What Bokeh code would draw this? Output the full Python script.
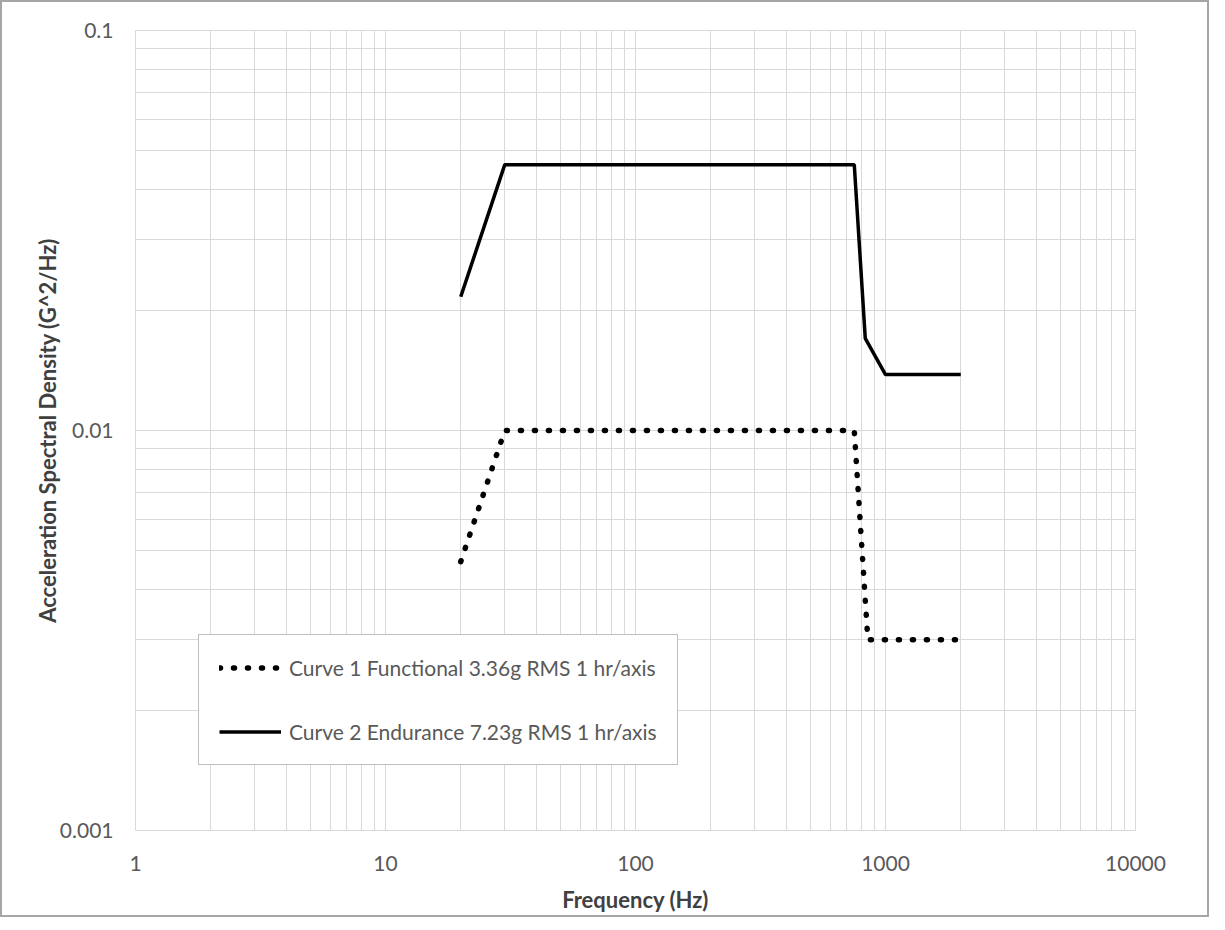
from bokeh.plotting import figure
from bokeh.models import Range1d, FixedTicker, CustomJSTickFormatter, Legend, LegendItem
from bokeh.embed import file_html
from bokeh.resources import INLINE

# ---- data ----
curve1_freq = [20, 30, 750, 850, 2000]
curve1_psd = [0.0047, 0.0100, 0.0100, 0.0030, 0.0030]
curve2_freq = [20, 30, 750, 830, 1000, 2000]
curve2_psd = [0.0216, 0.0462, 0.0462, 0.0170, 0.0138, 0.0138]
curve1_label = "Curve 1 Functional 3.36g RMS 1 hr/axis"
curve2_label = "Curve 2 Endurance 7.23g RMS 1 hr/axis"
x_decades = [1, 10, 100, 1000, 10000]
y_decades = [0.001, 0.01, 0.1]
mantissas = [2, 3, 4, 5, 6, 7, 8, 9]
x_title = "Frequency (Hz)"
y_title = "Acceleration Spectral Density (G^2/Hz)"

FONT = "Lato"
GRID = "#d9d9d9"

x_minor = [d * m for d in x_decades[:-1] for m in mantissas]
y_minor = [d * m for d in y_decades[:-1] for m in mantissas]

p = figure(width=1205, height=910, output_backend="svg", toolbar_location=None,
           x_axis_type="log", y_axis_type="log",
           x_range=Range1d(1, 10000), y_range=Range1d(0.001, 0.1),
           min_border_left=133, min_border_right=72, min_border_top=28, min_border_bottom=82)
p.frame_width = 1000
p.frame_height = 800
p.styles = {"border": "2px solid #a6a6a6"}

p.xaxis.ticker = FixedTicker(ticks=x_decades, minor_ticks=x_minor)
p.yaxis.ticker = FixedTicker(ticks=y_decades, minor_ticks=y_minor)
p.xaxis.formatter = CustomJSTickFormatter(code="return String(tick);")
p.yaxis.formatter = CustomJSTickFormatter(code="return String(tick);")

for ax in (p.xaxis[0], p.yaxis[0]):
    ax.axis_line_color = None
    ax.major_tick_line_color = None
    ax.minor_tick_line_color = None
    ax.major_label_text_font = FONT
    ax.major_label_text_font_size = "21px"
    ax.major_label_text_color = "#595959"
    ax.axis_label_text_font = FONT
    ax.axis_label_text_font_size = "22px"
    ax.axis_label_text_font_style = "bold"
    ax.axis_label_text_color = "#404040"

p.xaxis.axis_label = x_title
p.yaxis.axis_label = y_title
p.xaxis.major_label_standoff = 19
p.yaxis.major_label_standoff = 16
p.xaxis.axis_label_standoff = 12
p.yaxis.axis_label_standoff = -4

for g in (p.xgrid[0], p.ygrid[0]):
    g.grid_line_color = GRID
    g.minor_grid_line_color = GRID
    g.grid_line_width = 1
    g.minor_grid_line_width = 1
p.outline_line_color = GRID

r1 = p.line(curve1_freq, curve1_psd, line_color="black", line_width=5.5,
            line_dash="1 13", line_cap="round")
r2 = p.line(curve2_freq, curve2_psd, line_color="black", line_width=3.5)

legend = Legend(items=[LegendItem(label=curve1_label, renderers=[r1]),
                       LegendItem(label=curve2_label, renderers=[r2])],
                location=(63, 65), padding=20, spacing=39,
                glyph_width=62, glyph_height=21, label_height=21, label_standoff=8,
                label_text_font=FONT, label_text_font_size="21px", label_text_color="#595959",
                border_line_color="#7f7f7f", border_line_width=1.5,
                background_fill_color="white", background_fill_alpha=1.0, margin=0)
p.add_layout(legend)

open("out.html", "w").write(file_html(p, INLINE))
